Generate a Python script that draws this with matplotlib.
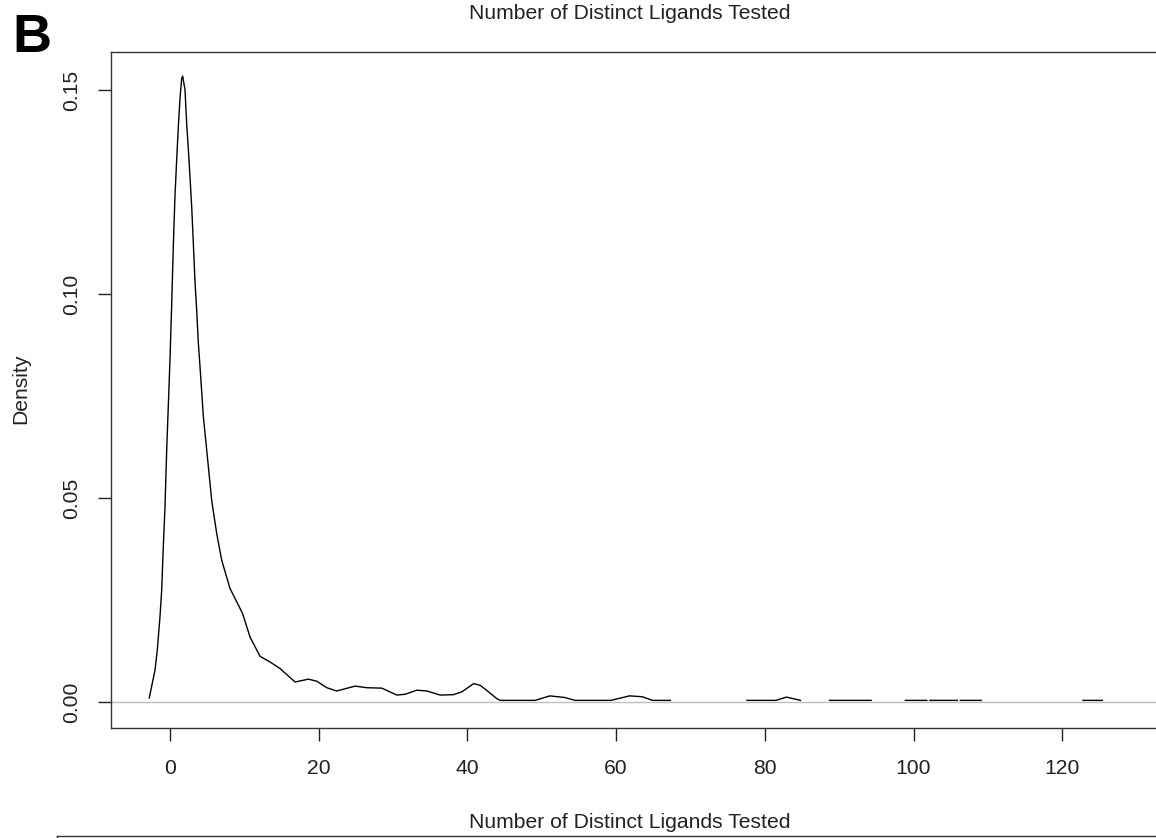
import numpy as np
import matplotlib.pyplot as plt

# --- Data (kernel density of ligand counts) ---
# main continuous stretch of the curve
DENS_X = [-2.79, -2.02, -1.71, -1.35, -1.12, -0.90, -0.67, -0.44, -0.22, 0.00,
          0.22, 0.45, 0.67, 0.90, 1.12, 1.35, 1.57, 1.70, 2.02, 2.24,
          2.56, 2.92, 3.14, 3.36, 3.59, 3.81, 4.04, 4.49, 4.94, 5.61,
          6.28, 6.96, 8.08, 9.76, 10.77, 12.11, 13.46, 14.8, 16.82, 18.61,
          19.74, 21.09, 22.43, 24.9, 26.47, 28.49, 30.51, 31.63, 33.2, 34.55,
          36.34, 38.13, 39.26, 40.83, 41.72, 42.84, 43.97, 44.4, 49.1, 51.1,
          53.1, 54.5, 59.3, 61.8, 63.5, 64.9, 67.3]
DENS_Y = [0.0010, 0.0078, 0.0127, 0.0208, 0.0274, 0.0380, 0.0480, 0.0620, 0.0730, 0.0840,
          0.0970, 0.1120, 0.1240, 0.1330, 0.1410, 0.1480, 0.1528, 0.1534, 0.1500, 0.1418,
          0.1328, 0.1213, 0.1124, 0.1030, 0.0960, 0.0880, 0.0821, 0.0699, 0.0617, 0.0494,
          0.0413, 0.0347, 0.0278, 0.0217, 0.0159, 0.0112, 0.0098, 0.0082, 0.0049, 0.0056,
          0.0051, 0.0035, 0.0027, 0.0039, 0.0035, 0.0034, 0.0017, 0.0019, 0.0029, 0.0027,
          0.0017, 0.0018, 0.0025, 0.0045, 0.0041, 0.0025, 0.0008, 0.0004, 0.0004, 0.0015,
          0.0011, 0.0004, 0.0004, 0.0015, 0.0013, 0.0004, 0.0004]

# short pieces in the tail (curve is broken between them)
TAIL_X = [[77.6, 81.5, 82.9, 84.8],
          [88.7, 94.3],
          [98.9, 101.8],
          [102.2, 105.9],
          [106.3, 109.1],
          [122.8, 125.4]]
TAIL_Y = [[0.0004, 0.0004, 0.0012, 0.0004],
          [0.0004, 0.0004],
          [0.0004, 0.0004],
          [0.0004, 0.0004],
          [0.0004, 0.0004],
          [0.0004, 0.0004]]

X_TICKS = [0, 20, 40, 60, 80, 100, 120]
Y_TICKS = [0.00, 0.05, 0.10, 0.15]
TITLE = "Number of Distinct Ligands Tested"

W, H = 1156, 838
FS = 15.2

plt.rcParams['font.family'] = ['Liberation Sans', 'DejaVu Sans']

# join pieces with NaN so the line breaks like the original
xs, ys = list(DENS_X), list(DENS_Y)
for sx, sy in zip(TAIL_X, TAIL_Y):
    xs += [np.nan] + sx
    ys += [np.nan] + sy

fig = plt.figure(figsize=(W / 100, H / 100), dpi=100)

# plot region in pixels: left 111, top 52, bottom 728, right off the image
L, T, B, R = 111, 52, 728, 1158
ax = fig.add_axes([L / W, 1 - B / H, (R - L) / W, (B - T) / H])

ax.axhline(0, color='#bebebe', lw=1.0, zorder=1)
ax.plot(xs, ys, color='black', lw=1.0, zorder=2)

ax.set_xlim((L - 170) / 7.435, (R - 170) / 7.435)
ax.set_ylim(-0.00637, 0.1593)

ax.set_xticks(X_TICKS)
ax.set_xticklabels([str(v) for v in X_TICKS])
ax.set_yticks(Y_TICKS)
ax.set_yticklabels([f"{v:.2f}" for v in Y_TICKS], rotation=90, va='center')
ax.tick_params(axis='both', direction='out', length=9.5, width=1.0,
               color='#222222', labelsize=FS, labelcolor='#222222')
ax.tick_params(axis='x', pad=13)
ax.tick_params(axis='y', pad=12)

for s in ax.spines.values():
    s.set_color('#333333')
    s.set_linewidth(1.0)

fig.text(21 / W, 1 - 389 / H, "Density", rotation=90, ha='center', va='center',
         fontsize=FS, color='#222222')
fig.text(630 / W, 1 - 19 / H, TITLE, ha='center', va='baseline',
         fontsize=FS, color='#222222')
fig.text(12 / W, 1 - 52 / H, "B", ha='left', va='baseline',
         fontsize=39, fontweight='bold', color='black')

# top of the next panel, cut off at the bottom of the image
fig.text(630 / W, 1 - 828 / H, TITLE, ha='center', va='baseline',
         fontsize=FS, color='#222222')
ax2 = fig.add_axes([57 / W, -0.2, 1.2, 0.2 + (H - 835.7) / H])
ax2.set_xticks([])
ax2.set_yticks([])
for s in ax2.spines.values():
    s.set_color('#333333')
    s.set_linewidth(1.0)
ax2.patch.set_alpha(0)

fig.savefig("out.png", dpi=100)
